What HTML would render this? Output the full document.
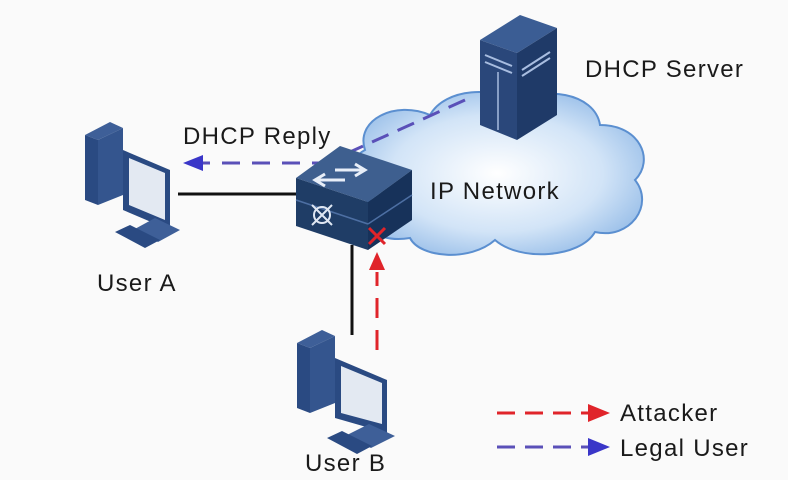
<!DOCTYPE html>
<html><head><meta charset="utf-8"><style>
html,body{margin:0;padding:0;background:#fafafa}
svg{display:block}
text{font-family:"Liberation Sans",sans-serif;fill:#1a1a1a;font-size:24px;letter-spacing:1.3px}
</style></head><body>
<svg width="788" height="480" viewBox="0 0 788 480">
<defs>
<radialGradient id="cg" cx="50%" cy="50%" r="60%">
<stop offset="0" stop-color="#ffffff"/><stop offset="0.6" stop-color="#d2e4f7"/><stop offset="1" stop-color="#8fb8e6"/>
</radialGradient>
</defs>
<rect width="788" height="480" fill="#fafafa"/>
<path d="M365,150 C355,120 395,100 430,115 C445,88 495,85 520,105 C540,85 595,92 600,125 C640,125 655,160 635,180 C655,205 630,240 595,232 C580,258 520,262 495,240 C470,262 420,258 410,238 C370,245 350,215 370,200 C345,190 345,160 365,150 Z" fill="url(#cg)" stroke="#5b8fd0" stroke-width="2"/>
<polygon points="480,40 520,15 557,28 517,53" fill="#3b5d94"/>
<polygon points="480,40 517,53 517,140 480,125" fill="#2a477a"/>
<polygon points="517,53 557,28 557,115 517,140" fill="#1f3a68"/>
<line x1="485" y1="55" x2="512" y2="66" stroke="#a8bde0" stroke-width="2"/>
<line x1="485" y1="62" x2="512" y2="73" stroke="#a8bde0" stroke-width="2"/>
<line x1="522" y1="70" x2="550" y2="52" stroke="#a8bde0" stroke-width="2"/>
<line x1="522" y1="76" x2="550" y2="58" stroke="#a8bde0" stroke-width="2"/>
<line x1="498" y1="72" x2="498" y2="130" stroke="#a8bde0" stroke-width="1.5"/>
<line x1="178" y1="194" x2="300" y2="194" stroke="#111" stroke-width="3"/>
<line x1="352" y1="245" x2="352" y2="335" stroke="#111" stroke-width="3"/>
<polyline points="465,100 350,152" fill="none" stroke="#5a50b8" stroke-width="3" stroke-dasharray="18,10"/>
<line x1="330" y1="163" x2="200" y2="163" stroke="#5a50b8" stroke-width="3" stroke-dasharray="18,12"/>
<polygon points="183,163 203,155 203,171" fill="#3a36c8"/>
<polygon points="296,178 340,146 412,170 368,202" fill="#3e5f8f"/>
<polygon points="296,178 368,202 368,250 296,226" fill="#1f3d66"/>
<polygon points="368,202 412,170 412,220 368,250" fill="#17325a"/>
<line x1="296" y1="200" x2="368" y2="224" stroke="#4d6fa3" stroke-width="1.5"/>
<line x1="368" y1="224" x2="412" y2="195" stroke="#4d6fa3" stroke-width="1.5"/>
<path d="M335,170 h30 M355,164 l10,6 l-10,6 M345,180 h-30 M325,174 l-10,6 l10,6" stroke="#e8eef8" stroke-width="3" fill="none"/>
<circle cx="322" cy="215" r="8" fill="none" stroke="#dfe7f3" stroke-width="2"/>
<path d="M312,205 l20,20 M332,205 l-20,20" stroke="#dfe7f3" stroke-width="2"/>
<line x1="377" y1="350" x2="377" y2="272" stroke="#e0242a" stroke-width="3" stroke-dasharray="20,12"/>
<polygon points="377,252 369,270 385,270" fill="#e0242a"/>
<path d="M369,228 l16,16 M385,228 l-16,16" stroke="#e0242a" stroke-width="3"/>
<g transform="translate(85,110)">
<polygon points="0,25 25,12 38,18 13,30" fill="#3e5f98"/>
<polygon points="0,25 13,30 13,95 0,90" fill="#2a4a82"/>
<polygon points="13,30 38,18 38,85 13,95" fill="#34558e"/>
<polygon points="38,40 85,60 85,120 38,100" fill="#2a4a82"/>
<polygon points="44,48 80,63 80,110 44,95" fill="#e3e9f2"/>
<polygon points="48,120 70,108 95,120 73,132" fill="#3e5f98"/>
<polygon points="30,122 45,115 75,130 60,138" fill="#2a4a82"/>
</g>
<g transform="translate(297,318)">
<polygon points="0,25 25,12 38,18 13,30" fill="#3e5f98"/>
<polygon points="0,25 13,30 13,95 0,90" fill="#2a4a82"/>
<polygon points="13,30 38,18 38,85 13,95" fill="#34558e"/>
<polygon points="38,40 90,62 90,115 38,100" fill="#2a4a82"/>
<polygon points="44,48 85,65 85,106 44,95" fill="#e3e9f2"/>
<polygon points="48,118 72,106 98,118 74,130" fill="#3e5f98"/>
<polygon points="30,120 45,113 75,128 60,136" fill="#2a4a82"/>
</g>
<text x="585" y="77">DHCP Server</text>
<text x="183" y="144">DHCP Reply</text>
<text x="430" y="199">IP Network</text>
<text x="97" y="291">User A</text>
<text x="305" y="471">User B</text>
<line x1="497" y1="413" x2="590" y2="413" stroke="#e0242a" stroke-width="3" stroke-dasharray="18,10"/>
<polygon points="610,413 588,404 588,422" fill="#e0242a"/>
<line x1="497" y1="447" x2="590" y2="447" stroke="#5a50b8" stroke-width="3" stroke-dasharray="18,10"/>
<polygon points="610,447 588,438 588,456" fill="#3a36c8"/>
<text x="620" y="421">Attacker</text>
<text x="620" y="456">Legal User</text>
</svg>
</body></html>
